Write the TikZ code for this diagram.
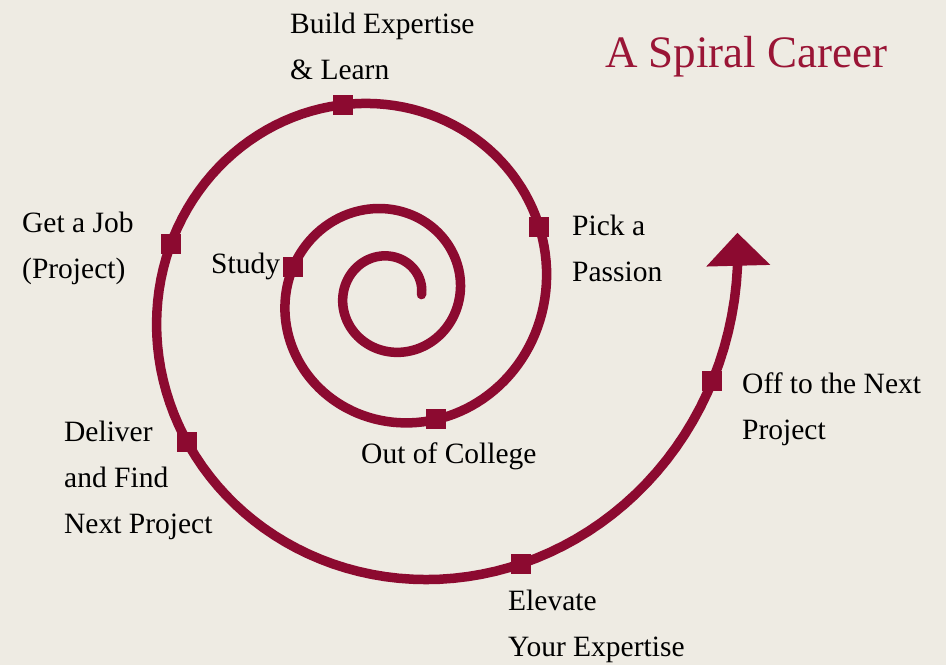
\documentclass[tikz,border=0pt]{standalone}
\usepackage{fontspec}
\setmainfont{Liberation Serif}
\usetikzlibrary{arrows.meta}
\definecolor{wine}{HTML}{8C0A30}
\definecolor{titlered}{HTML}{9A1536}
\definecolor{paper}{HTML}{EEEBE3}
\tikzset{declare function={sx(\a) = 390+31.5*exp(0.127*\a)*cos(\a r); sy(\a) = 294.6-31.5*exp(0.127*\a)*sin(\a r);}}
\begin{document}
\begin{tikzpicture}[x=1pt, y=-1pt, spiral/.style = {draw=wine, line width=9.5pt, line cap=round}, marker/.style = {fill=wine, rectangle, minimum size=20pt, inner sep=0}, note/.style = {anchor=base west, align=left, inner sep=0, font=\fontsize{29.5}{46}\selectfont}]
  \fill[paper] (0, 0) rectangle (946, 665);
  \useasboundingbox (0, 0) rectangle (946, 665);
  \draw[spiral, -{Triangle[width=62pt, length=33pt]}] plot[domain=0:19.03, samples=400, variable=\t] ({sx(\t)}, {sy(\t)});
  \node[marker] at ({sx(9.143)}, {sy(9.143)}) (study) {};
  \node[marker] at ({sx(11.351)}, {sy(11.351)}) (college) {};
  \node[marker] at ({sx(12.994)}, {sy(12.994)}) (passion) {};
  \node[marker] at ({sx(14.382)}, {sy(14.382)}) (expertise) {};
  \node[marker] at ({sx(15.481)}, {sy(15.481)}) (job) {};
  \node[marker] at ({sx(16.336)}, {sy(16.336)}) (deliver) {};
  \node[marker] at ({sx(17.730)}, {sy(17.730)}) (elevate) {};
  \node[marker] at ({sx(18.587)}, {sy(18.587)}) (next) {};
  % multi-line notes sit on their last baseline
  \node[note] at (211, 273) (study-text) {Study};
  \node[note] at (361, 463) (college-text) {Out of College};
  \node[note] at (572, 281) (passion-text) {Pick a\\Passion};
  \node[note] at (290, 79) (expertise-text) {Build Expertise\\\& Learn};
  \node[note] at (22, 278) (job-text) {Get a Job\\(Project)};
  \node[note] at (64, 533) (deliver-text) {Deliver\\and Find\\Next Project};
  \node[note] at (508, 656) (elevate-text) {Elevate\\Your Expertise};
  \node[note] at (742, 439) (next-text) {Off to the Next\\Project};
  \node[anchor=base west, inner sep=0, text=titlered, font=\fontsize{45}{50}\selectfont] at (605, 67) (title) {A Spiral Career};
\end{tikzpicture}
\end{document}
